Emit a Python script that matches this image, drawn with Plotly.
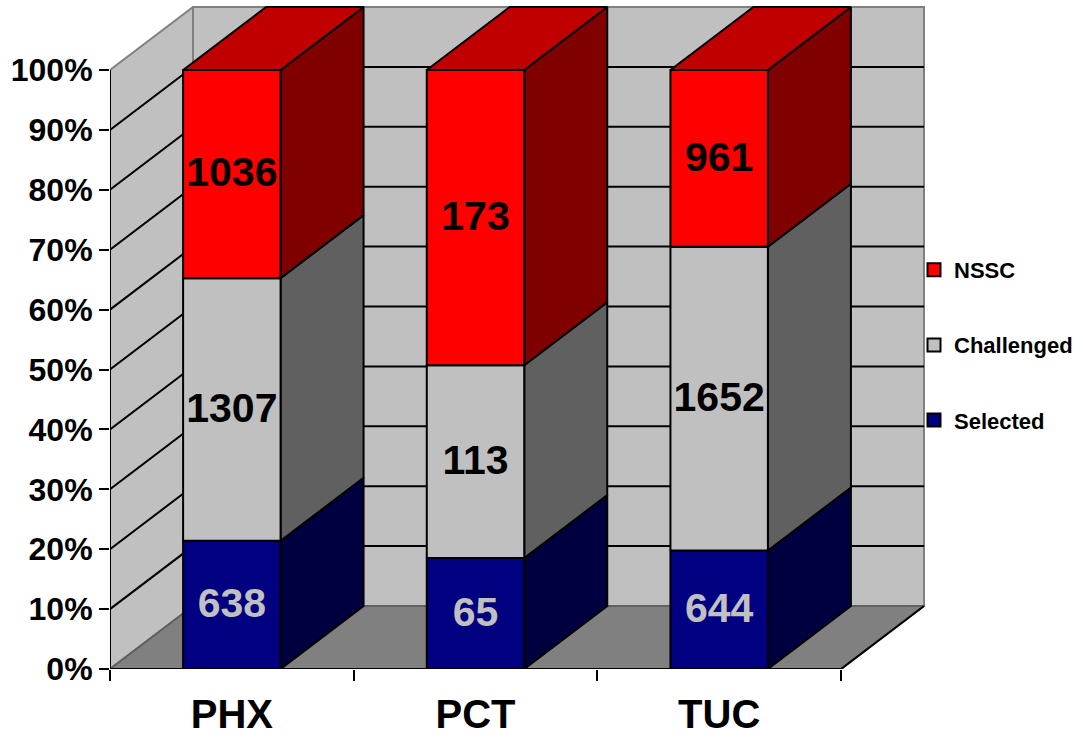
import plotly.graph_objects as go

sites = ["PHX", "PCT", "TUC"]
selected = [638, 65, 644]
challenged = [1307, 113, 1652]
nssc = [1036, 173, 961]
y_ticks = [0, 10, 20, 30, 40, 50, 60, 70, 80, 90, 100]
y_tick_labels = ["0%", "10%", "20%", "30%", "40%", "50%", "60%", "70%", "80%", "90%", "100%"]

# plot-area geometry (pixels)
W, H = 1083, 738
L, R, T, B = 110, 930, 5, 669
PX_PER_CAT = 243.67
PX_PER_PCT = 5.99
DX = 83 / PX_PER_CAT        # oblique depth expressed in axis units
DY = 63 / PX_PER_PCT
BAR = 0.4                   # bar width in category units
LABEL_DROP = 2 / PX_PER_PCT

series = [
    ("Selected", selected, "#000080", "#000040", "#C0C0C0"),
    ("Challenged", challenged, "#C0C0C0", "#606060", "#000000"),
    ("NSSC", nssc, "#FF0000", "#800000", "#000000"),
]

fig = go.Figure()


def poly(xs, ys, fill, line="#000000", width=2):
    fig.add_trace(go.Scatter(
        x=list(xs) + [xs[0]], y=list(ys) + [ys[0]], mode="lines", fill="toself",
        fillcolor=fill, line=dict(color=line, width=width), showlegend=False,
        hoverinfo="skip", cliponaxis=False))


def lines(xs, ys, color, width=2):
    fig.add_trace(go.Scatter(
        x=xs, y=ys, mode="lines", line=dict(color=color, width=width),
        showlegend=False, hoverinfo="skip", cliponaxis=False))


# walls and floor
poly([0, DX, DX, 0], [0, DY, 100 + DY, 100], "#C0C0C0", "#808080")
poly([DX, 3 + DX, 3 + DX, DX], [DY, DY, 100 + DY, 100 + DY], "#C0C0C0", "#808080")
poly([0, DX, 3 + DX, 3], [0, DY, DY, 0], "#808080", "#606060")
lines([3, 3 + DX], [0, DY], "#000000")

# gridlines on walls
gx, gy = [], []
for v in y_ticks[1:-1]:
    gx += [0, DX, 3 + DX, None]
    gy += [v, v + DY, v + DY, None]
lines(gx, gy, "#000000")

# stacked bars
label_x, label_y, label_t, label_c = [], [], [], []
for i in range(len(sites)):
    total = selected[i] + challenged[i] + nssc[i]
    x0 = i + 0.5 - BAR / 2
    x1 = i + 0.5 + BAR / 2
    base = 0.0
    for j, (name, vals, front, side, txt) in enumerate(series):
        top = base + vals[i] / total * 100
        poly([x1, x1 + DX, x1 + DX, x1], [base, base + DY, top + DY, top], side)
        if j == len(series) - 1:
            poly([x0, x1, x1 + DX, x0 + DX], [top, top, top + DY, top + DY], "#C00000")
        poly([x0, x1, x1, x0], [base, base, top, top], front)
        label_x.append(i + 0.5)
        label_y.append((base + top) / 2 - LABEL_DROP)
        label_t.append(str(vals[i]))
        label_c.append(txt)
        base = top

fig.add_trace(go.Scatter(
    x=label_x, y=label_y, text=label_t, mode="text", textposition="middle center",
    textfont=dict(family="Liberation Sans", size=41, color=label_c, weight="bold"),
    showlegend=False, hoverinfo="skip", cliponaxis=False))

# axis lines
lines([0, 0, 3], [100, 0, 0], "#000000")

# legend entries
for k, (name, vals, front, side, txt) in enumerate(reversed(series)):
    fig.add_trace(go.Scatter(
        x=[None], y=[None], mode="markers", name=name, legendgroup=name,
        marker=dict(symbol="square", size=13, color=front, line=dict(color="#000000", width=2))))

fig.update_layout(
    width=W, height=H, margin=dict(l=L, r=W - R, t=T, b=H - B, autoexpand=False),
    paper_bgcolor="white", plot_bgcolor="white",
    font=dict(family="Liberation Sans", color="black"),
    showlegend=True,
    legend=dict(x=(914 - L) / (R - L), xanchor="left", y=(B - 249) / (B - T), yanchor="top",
                tracegroupgap=43.5, font=dict(size=22, weight="bold"),
                bgcolor="rgba(0,0,0,0)", itemclick=False, itemdoubleclick=False),
    xaxis=dict(range=[0, (R - L) / PX_PER_CAT], showgrid=False, zeroline=False, showline=False,
               automargin=False,
               tickmode="array", tickvals=[i + 0.5 for i in range(len(sites))], ticktext=sites,
               ticks="outside", ticklen=10, tickcolor="rgba(0,0,0,0)",
               tickfont=dict(size=40, weight="bold"),
               minor=dict(tickmode="array", tickvals=[0, 1, 2, 3], ticks="outside", ticklen=11,
                          tickwidth=2, tickcolor="#000000", showgrid=False)),
    yaxis=dict(range=[0, (B - T) / PX_PER_PCT], showgrid=False, zeroline=False, showline=False,
               automargin=False,
               tickmode="array", tickvals=y_ticks, ticktext=y_tick_labels,
               ticks="outside", ticklen=10, tickwidth=2, tickcolor="#000000",
               tickfont=dict(size=32, weight="bold")),
)

fig.write_html("out.html", config={"displayModeBar": False},
               post_script="document.body.style.margin='0';document.documentElement.style.overflow='hidden';")
